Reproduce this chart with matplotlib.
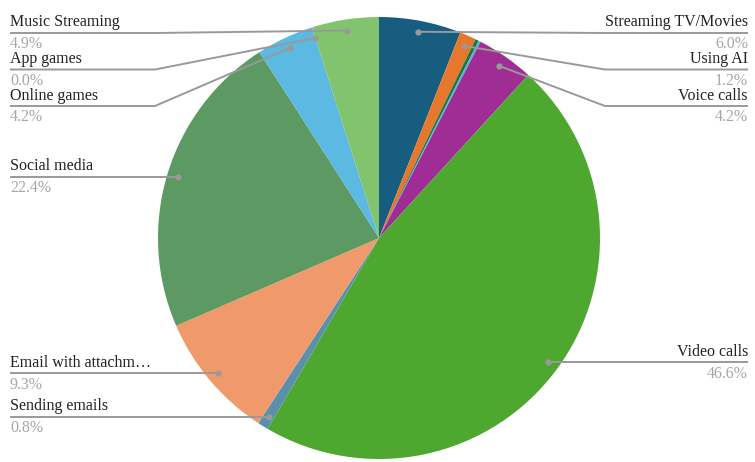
import matplotlib
matplotlib.use("Agg")
import matplotlib.pyplot as plt
import numpy as np

categories = ["Streaming TV/Movies", "Using AI", "", "", "Voice calls", "Video calls",
              "Sending emails", "Email with attachm\u2026", "Social media", "Online games",
              "App games", "Music Streaming"]
values = [6.0, 1.2, 0.25, 0.15, 4.2, 46.6, 0.8, 9.3, 22.4, 4.2, 0.0, 4.9]
pct_labels = ["6.0%", "1.2%", "", "", "4.2%", "46.6%", "0.8%", "9.3%", "22.4%", "4.2%", "0.0%", "4.9%"]
colors = ["#175d80", "#e8772e", "#1a7a35", "#4fb4e0", "#a02d95", "#4ea72e",
          "#5b90aa", "#f09a6c", "#5c9963", "#5bb9e2", "#999999", "#82c36d"]

W, H = 755, 462
CX, CY, R = 379, 238, 221

fig = plt.figure(figsize=(W / 100, H / 100), dpi=100)
ax = fig.add_axes([0, 0, 1, 1])
ax.axis("off")

wedges, _ = ax.pie(values, colors=colors, startangle=90, counterclock=False,
                   radius=1.0, center=(0, 0), wedgeprops=dict(linewidth=0),
                   normalize=True, frame=False)
ax.set_xlim(-CX / R, (W - CX) / R)
ax.set_ylim(-(H - CY) / R, CY / R)
ax.set_aspect("auto")

def px(x):
    return (x - CX) / R

def py(y):
    return (CY - y) / R

total = sum(values)
cum = np.cumsum([0] + values[:-1])
mids = [(c + v / 2) / total for c, v in zip(cum, values)]

items = []
for i, (cat, m) in enumerate(zip(categories, mids)):
    if not cat:
        continue
    ang = np.pi / 2 - 2 * np.pi * m
    dx = CX + 0.95 * R * np.cos(ang)
    dy = CY - 0.95 * R * np.sin(ang)
    side = "right" if m < 0.5 else "left"
    items.append(dict(i=i, dx=dx, dy=dy, side=side))

font = "Liberation Serif"
line_col = "#999999"
for side in ["left", "right"]:
    its = sorted([it for it in items if it["side"] == side], key=lambda t: t["dy"])
    prev = None
    for it in its:
        ly = max(it["dy"], 33)
        if prev is not None:
            ly = max(ly, prev + 36.5)
        prev = ly
        i = it["i"]
        if side == "left":
            xs = [10, 155, it["dx"]] if it["dx"] > 155 else [10, it["dx"]]
            ys = [ly, ly, it["dy"]] if it["dx"] > 155 else [ly, it["dy"]]
            tx, ha = 10, "left"
        else:
            xs = [it["dx"], 605, 748] if it["dx"] < 605 else [it["dx"], 748]
            ys = [it["dy"], ly, ly] if it["dx"] < 605 else [it["dy"], ly]
            tx, ha = 748, "right"
        ax.plot([px(x) for x in xs], [py(y) for y in ys], color=line_col, lw=1.4,
                solid_capstyle="butt", zorder=3)
        ax.plot(px(it["dx"]), py(it["dy"]), "o", color=line_col, ms=4.5, zorder=4,
                markeredgewidth=0)
        ax.text(px(tx), py(ly - 2.5), categories[i], ha=ha, va="bottom",
                fontsize=11.5, family=font, color="#222222")
        ax.text(px(tx), py(ly + 3.5), pct_labels[i], ha=ha, va="top",
                fontsize=11.5, family=font, color="#a6a6a6")

fig.savefig("out.png", dpi=100)
